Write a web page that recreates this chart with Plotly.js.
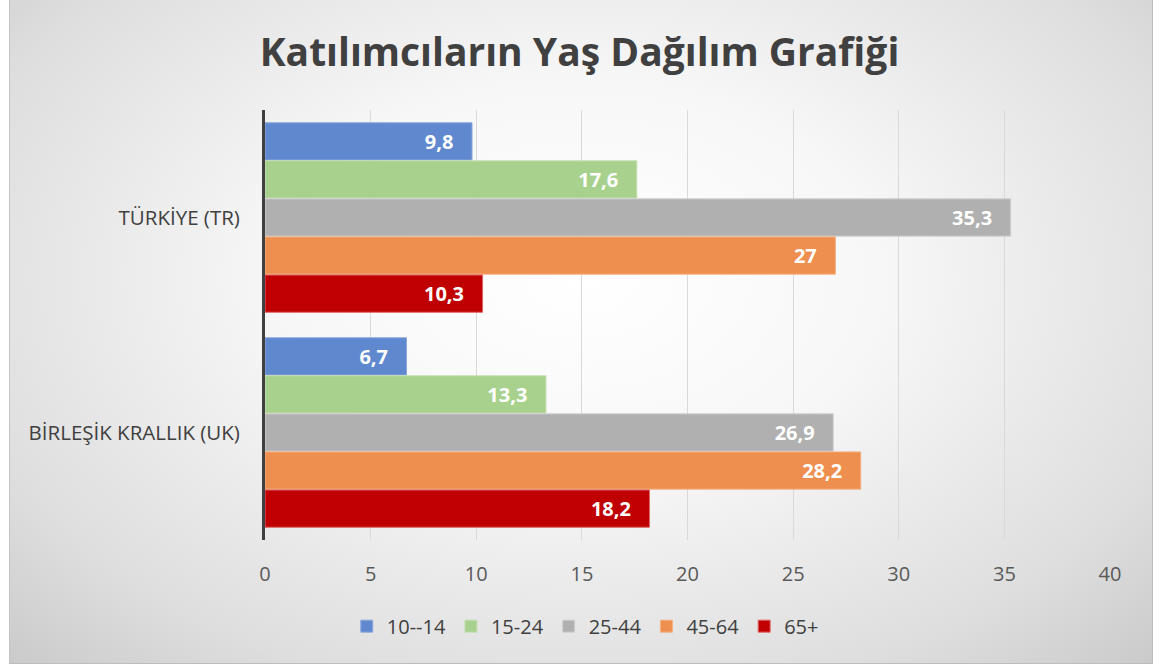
<!DOCTYPE html>
<html>
<head>
<meta charset="utf-8">
<script src="https://cdn.plot.ly/plotly-3.0.1.min.js"></script>
<style>
  html, body { margin:0; padding:0; background:#ffffff; }
  #bg { position:absolute; left:9px; top:0; width:1142px; height:663px;
        background: radial-gradient(ellipse 75% 85% at 50% 42%, #ffffff 0%, #f7f7f7 35%, #dedede 75%, #c6c6c6 100%);
        border-right:1px solid #bdbdbd; border-bottom:1px solid #bdbdbd; border-left:1px solid #c4c4c4; }
  #chart { position:absolute; left:0; top:0; width:1159px; height:666px; }
</style>
</head>
<body>
<div id="bg"></div>
<div id="chart"></div>
<script>
const categories = ['TÜRKİYE (TR)', 'BİRLEŞİK KRALLIK (UK)'];
const seriesNames = ['10--14', '15-24', '25-44', '45-64', '65+'];
const v10_14 = [9.8, 6.7];
const v15_24 = [17.6, 13.3];
const v25_44 = [35.3, 26.9];
const v45_64 = [27, 28.2];
const v65p   = [10.3, 18.2];
const allValues = [v10_14, v15_24, v25_44, v45_64, v65p];
const fills = ['#5f88cf', '#a9d18e', '#b0b0b0', '#ef8f4f', '#c00000'];
const edges = ['#8eaadb', '#c5e0b4', '#d0d0d0', '#f4b183', '#e06666'];

const fontFam = '"Open Sans", "Noto Sans", sans-serif';
const pad = '\u00a0\u00a0\u00a0';
const traces = allValues.map((vals, i) => ({
  type: 'bar',
  orientation: 'h',
  name: seriesNames[i],
  y: categories,
  x: vals,
  marker: { color: fills[i], line: { color: edges[i], width: 1 } },
  text: vals.map(v => String(v).replace('.', ',') + pad),
  textposition: 'inside',
  insidetextanchor: 'end',
  textangle: 0,
  textfont: { color: '#ffffff', size: 20, family: fontFam, weight: 'bold' },
  hoverinfo: 'x+name'
}));

const layout = {
  width: 1159, height: 666,
  paper_bgcolor: 'rgba(0,0,0,0)',
  plot_bgcolor: 'rgba(0,0,0,0)',
  margin: { l: 265, r: 49, t: 110, b: 126 },
  title: { text: 'Katılımcıların Yaş Dağılım Grafiği', x: 0.5, xanchor: 'center', y: 0.922, yanchor: 'middle',
           font: { family: fontFam, size: 39, color: '#404040', weight: 'bold' } },
  barmode: 'group',
  bargap: 0.115,
  bargroupgap: 0.02,
  xaxis: {
    range: [0, 40], dtick: 5, tick0: 0,
    showgrid: true, gridcolor: '#d9d9d9', gridwidth: 1,
    zeroline: false, showline: false, ticks: '',
    ticklabelstandoff: 20,
    tickfont: { family: fontFam, size: 20, color: '#595959' }
  },
  yaxis: {
    autorange: 'reversed',
    showline: true, linecolor: '#404040', linewidth: 3,
    ticks: '', showgrid: false, zeroline: false,
    ticklabelstandoff: 18,
    tickfont: { family: fontFam, size: 20.5, color: '#404040' }
  },
  legend: {
    orientation: 'h', x: 0.379, xanchor: 'center', y: -0.155, yanchor: 'top',
    font: { family: fontFam, size: 20, color: '#404040' },
    traceorder: 'normal', itemwidth: 30
  },
  showlegend: true
};

Plotly.newPlot('chart', traces, layout, { displayModeBar: false });
</script>
</body>
</html>
